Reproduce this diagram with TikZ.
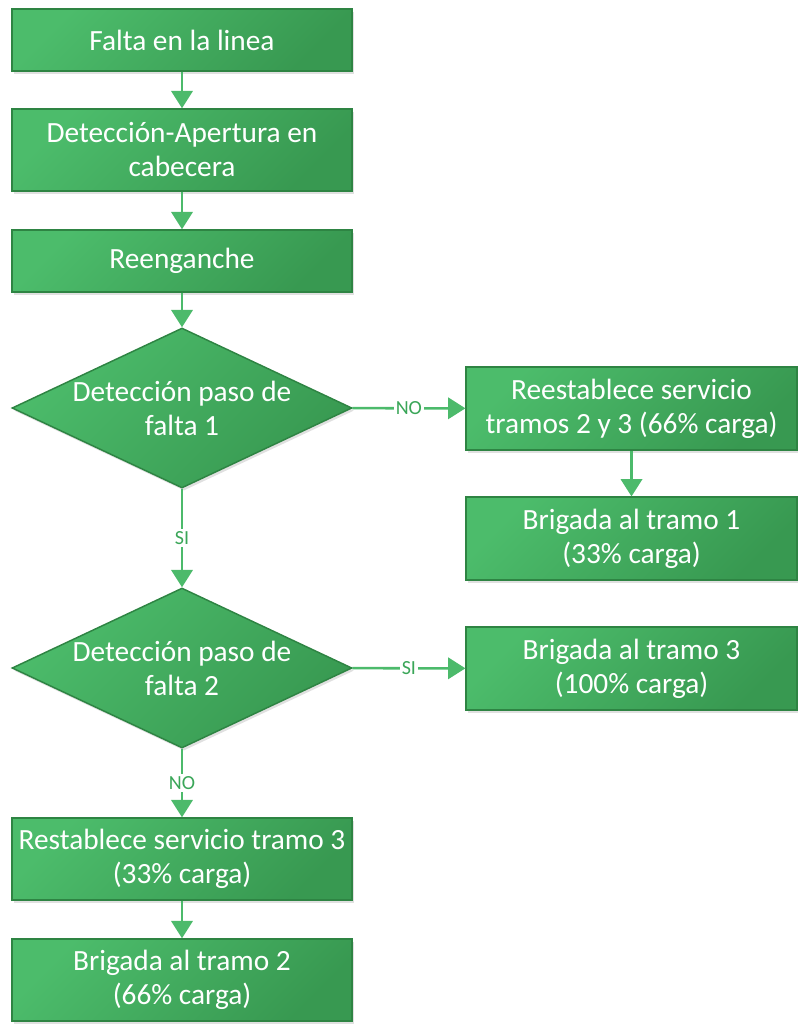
\documentclass[tikz,border=0pt]{standalone}
\usepackage{fontspec}
\setmainfont{Carlito}
\usetikzlibrary{arrows.meta, shapes.geometric, shadows}
\definecolor{boxlight}{RGB}{76,188,107}
\definecolor{boxdark}{RGB}{56,153,81}
\definecolor{boxedge}{RGB}{46,132,67}
\definecolor{linkgreen}{RGB}{76,186,107}
\definecolor{labelgreen}{RGB}{58,166,88}
\tikzset{
  fnode/.style={draw=boxedge, line width=1.1pt, align=center, text=white, font=\fontsize{22}{25.5}\selectfont, inner sep=0pt, top color=boxlight, bottom color=boxdark, shading angle=45, drop shadow={shadow xshift=1.5pt, shadow yshift=-2pt, opacity=0.12, fill=black}},
  stepbox/.style={fnode, rectangle, minimum width=255pt, minimum height=46.5pt},
  tallbox/.style={stepbox, minimum height=61.5pt},
  sidebox/.style={fnode, rectangle, minimum width=248pt, minimum height=62pt},
  decision/.style={fnode, diamond, aspect=2.125, minimum width=255pt, minimum height=120pt},
  link/.style={-{Triangle[length=13pt, width=16pt]}, draw=linkgreen, line width=1.9pt},
  linklabel/.style={fill=white, text=labelgreen, font=\fontsize{15}{18}\selectfont, inner sep=1.5pt},
}
\newcommand{\decline}[1]{\makebox[100pt]{#1}}

\begin{document}
\begin{tikzpicture}[x=0.75pt, y=-0.75pt]
  \useasboundingbox (0,0) rectangle (798,1025);
  % main column
  \node[stepbox] (falta) at (182,40) {Falta en la linea};
  \node[tallbox] (apertura) at (182,150) {Detección-Apertura en\\cabecera};
  \node[stepbox] (reenganche) at (182,261) {Reenganche};
  \node[decision] (paso1) at (182,408) {\decline{Detección paso de}\\\decline{falta 1}};
  \node[decision] (paso2) at (182,668) {\decline{Detección paso de}\\\decline{falta 2}};
  \node[tallbox] (tramo3) at (182,859) {Restablece servicio tramo 3\\(33\% carga)};
  \node[tallbox] (brigada2) at (182,980) {Brigada al tramo 2\\(66\% carga)};
  % side column
  \node[sidebox] (tramos23) at (631.5,408.5) {Reestablece servicio\\tramos 2 y 3 (66\% carga)};
  \node[sidebox] (brigada1) at (631.5,538.5) {Brigada al tramo 1\\(33\% carga)};
  \node[sidebox] (brigada3) at (631.5,668.5) {Brigada al tramo 3\\(100\% carga)};
  % connectors
  \draw[link] (falta) -- (apertura);
  \draw[link] (apertura) -- (reenganche);
  \draw[link] (reenganche) -- (paso1);
  \draw[link] (paso1) -- node[linklabel] {NO} (tramos23);
  \draw[link] (tramos23) -- (brigada1);
  \draw[link] (paso1) -- node[linklabel] {SI} (paso2);
  \draw[link] (paso2) -- node[linklabel] {SI} (brigada3);
  \draw[link] (paso2) -- node[linklabel] {NO} (tramo3);
  \draw[link] (tramo3) -- (brigada2);
\end{tikzpicture}
\end{document}
